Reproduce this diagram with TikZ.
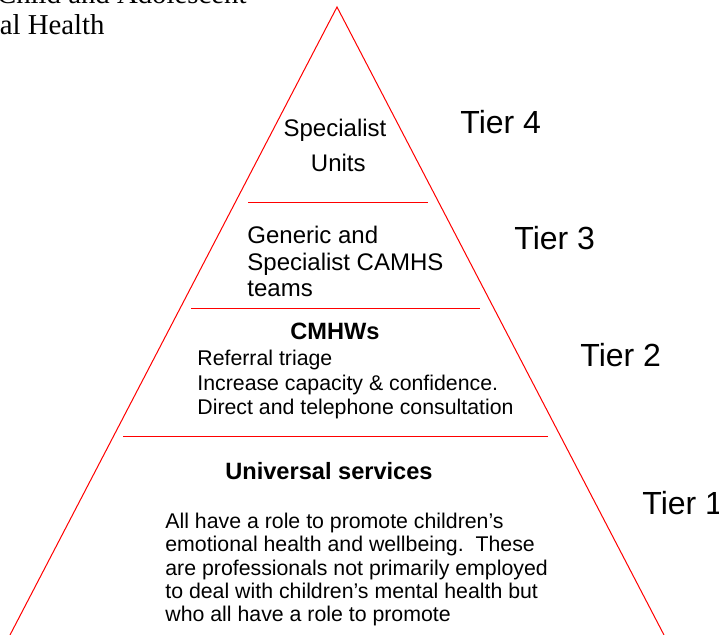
\documentclass[tikz,border=0pt]{standalone}
\usepackage{fontspec}
\setmainfont{Liberation Sans}
\newfontfamily\titlefont{Liberation Serif}

\begin{document}
\begin{tikzpicture}[x=0.5pt,y=-0.5pt,
	tierline/.style={red, line width=0.5pt},
	tierlabel/.style={anchor=base west, inner sep=0pt, font=\fontsize{16}{19}\selectfont},
	tierhead/.style={anchor=base, inner sep=0pt, font=\bfseries\fontsize{11.8}{14}\selectfont},
	tiertext/.style={anchor=base west, inner sep=0pt, align=left},
	titletext/.style={anchor=base east, inner sep=0pt, font=\titlefont\fontsize{14.4}{17}\selectfont}]
		\clip (0,0) rectangle (719,635);
		% title, cut by the edge of the page
		\node[titletext] (title1) at (247,4) {Child and Adolescent};
		\node[titletext] (title2) at (105,35) {Mental Health};
		% pyramid
		\coordinate (apex) at (337,7);
		\coordinate (baseL) at (10,635);
		\coordinate (baseR) at (664,635);
		\draw[tierline] (baseL) -- (apex) -- (baseR);
		\coordinate (cut4L) at (248,203);
		\coordinate (cut4R) at (428,203);
		\coordinate (cut3L) at (191,309);
		\coordinate (cut3R) at (480,309);
		\coordinate (cut2L) at (123,437);
		\coordinate (cut2R) at (548,437);
		\draw[tierline] (cut4L) -- (cut4R);
		\draw[tierline] (cut3L) -- (cut3R);
		\draw[tierline] (cut2L) -- (cut2R);
		% tier 4 (last line on the given baseline)
		\node[anchor=base, inner sep=0pt, align=center, font=\fontsize{12}{17.5}\selectfont] (units) at (335,172) {Specialist\\ \ Units};
		% tier 3
		\node[tiertext, font=\fontsize{12}{13.3}\selectfont] (camhs) at (247,297) {Generic and\\Specialist CAMHS\\teams};
		% tier 2
		\node[tierhead] (cmhw) at (335,340) {CMHWs};
		\node[tiertext, font=\fontsize{10.65}{12.25}\selectfont] (cmhwtext) at (197,415) {Referral triage\\Increase capacity \& confidence.\\Direct and telephone consultation};
		% tier 1
		\node[tierhead] (univ) at (329,480) {Universal services};
		\node[tiertext, font=\fontsize{10.65}{11.7}\selectfont] (univtext) at (165,622) {All have a role to promote children’s\\emotional health and wellbeing.\ \ These\\are professionals not primarily employed\\to deal with children’s mental health but\\who all have a role to promote};
		% labels
		\node[tierlabel] (tier4) at (460,134) {Tier 4};
		\node[tierlabel] (tier3) at (514,250) {Tier 3};
		\node[tierlabel] (tier2) at (580,367) {Tier 2};
		\node[tierlabel] (tier1) at (642,515) {Tier 1};
\end{tikzpicture}
\end{document}
